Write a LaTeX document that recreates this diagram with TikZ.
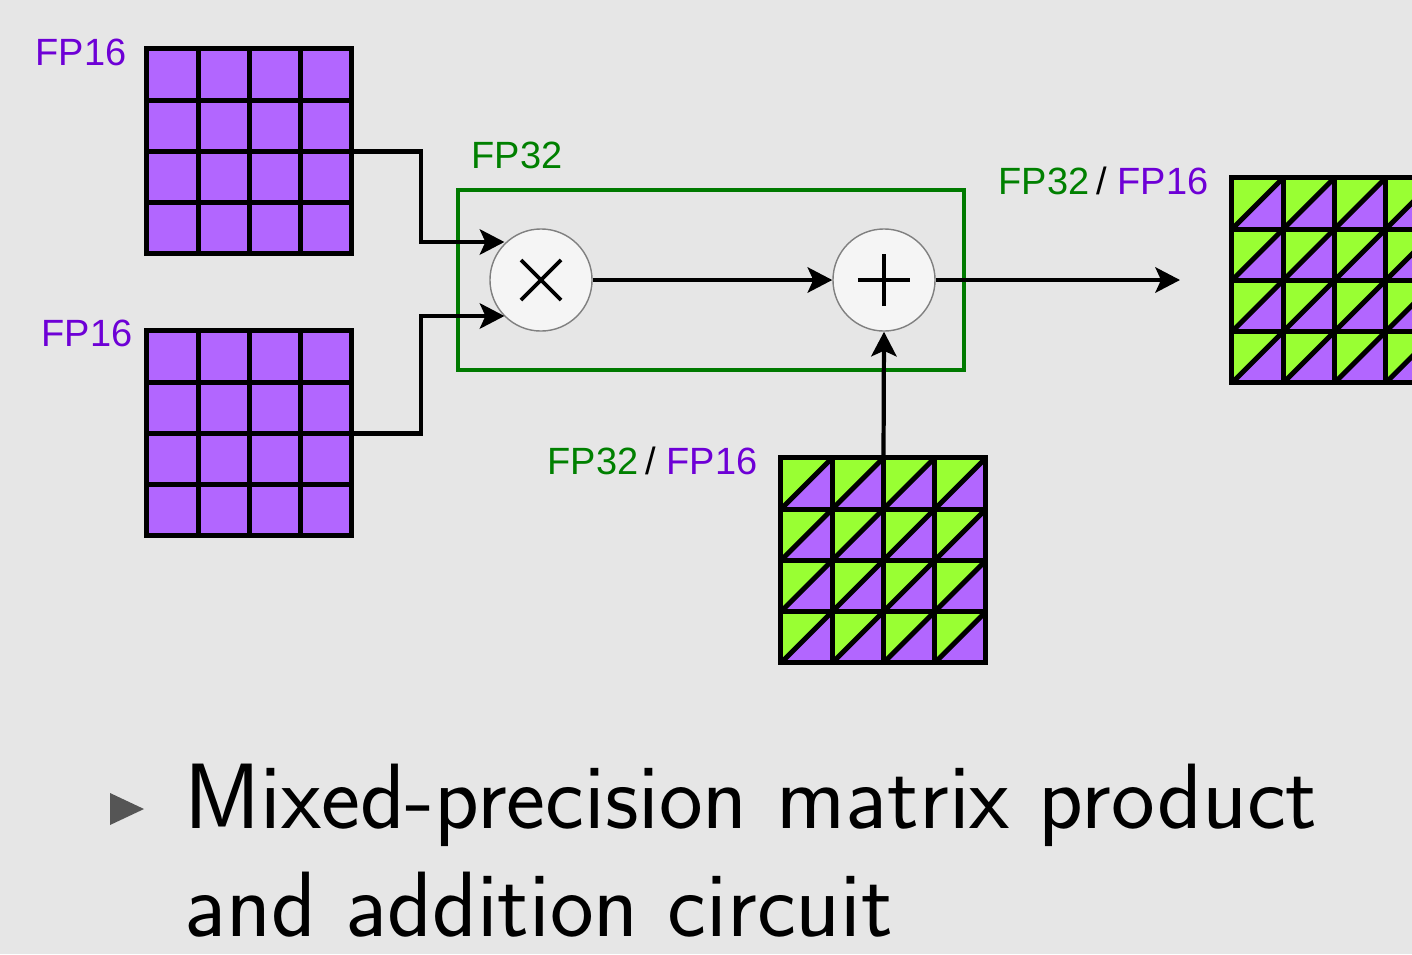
\documentclass[tikz,border=0pt]{standalone}
\usepackage{fontspec}
\newfontfamily\lblfont{Liberation Sans}
\usetikzlibrary{positioning,arrows.meta}
\definecolor{bgcol}{HTML}{E6E6E6}
\definecolor{fppurple}{HTML}{B266FF}
\definecolor{fpgreen}{HTML}{99FF33}
\definecolor{lblpurple}{HTML}{6E00D6}
\definecolor{lblgreen}{HTML}{008000}
\definecolor{boxgreen}{HTML}{007A00}
\definecolor{opfill}{HTML}{F5F5F5}
\definecolor{bulletgray}{HTML}{555555}
\begin{document}
\begin{tikzpicture}[x=0.01cm,y=-0.01cm,
    mat/.style={fill=fppurple,minimum size=2.05cm,inner sep=0pt,outer sep=0pt},
    cell/.style={line width=1.4pt},
    op/.style={circle,draw=gray,line width=0.4pt,fill=opfill,minimum size=1.02cm,inner sep=0pt},
    fplbl/.style={font=\lblfont\fontsize{10.8}{12}\selectfont,inner sep=0pt},
    conn/.style={line width=1.2pt,-{Stealth[length=7pt,width=7.2pt,inset=1.6pt]}}]
    \useasboundingbox (0,0) rectangle (1412,954);
    \fill[bgcol] (0,0) rectangle (1412,954);
    \clip (0,0) rectangle (1412,954);
    \node[mat] (matA) at (249.5,151.5) {};
    \node[mat] (matB) at (249.5,433.5) {};
    \node[mat] (matC) at (1334.5,280.5) {};
    \node[mat] (matD) at (883.5,560.5) {};
    \foreach \m in {matC,matD} {
        \begin{scope}[shift={(\m.north west)}]
            \foreach \i in {0,...,3} \foreach \j in {0,...,3} {
                \fill[fpgreen] ({\i*51.25},{\j*51.25}) -- ++(51.25,0) -- ++(-51.25,51.25) -- cycle;
                \draw[cell] ({\i*51.25},{(\j+1)*51.25}) -- ++(51.25,-51.25);
            }
        \end{scope}
    }
    \foreach \m in {matA,matB,matC,matD} {
        \begin{scope}[shift={(\m.north west)}]
            \foreach \k in {1,2,3} {
                \draw[cell] ({\k*51.25},0) -- ++(0,205);
                \draw[cell] (0,{\k*51.25}) -- ++(205,0);
            }
            \draw[cell] (0,0) rectangle (205,205);
        \end{scope}
    }
    \node[draw=boxgreen,line width=1.15pt,minimum width=5.06cm,minimum height=1.8cm] (fpbox) at (711,280) {};
    \node[op] (mul) at (541,280) {};
    \node[op] (add) at (884,280) {};
    \draw[line width=1.1pt] ([shift={(-20,-20)}]mul.center) -- ([shift={(20,20)}]mul.center);
    \draw[line width=1.1pt] ([shift={(-20,20)}]mul.center) -- ([shift={(20,-20)}]mul.center);
    \draw[line width=1.2pt] ([xshift=-0.26cm]add.center) -- ([xshift=0.26cm]add.center);
    \draw[line width=1.2pt] ([yshift=-0.26cm]add.center) -- ([yshift=0.26cm]add.center);
    \coordinate (bendA) at (421,242);
    \coordinate (bendB) at (421,316);
    \coordinate (outC) at (1180,280);
    \draw[conn] (matA.east) -| (bendA) -- (mul.135 |- bendA);
    \draw[conn] (matB.east) -| (bendB) -- (mul.225 |- bendB);
    \draw[conn] (mul) -- (add);
    \draw[conn] (add) -- (outC);
    \draw[conn] (matD.north) -- (add.south);
    \node[fplbl,text=lblpurple,anchor=base east] (lblA) at (127,65) {FP16};
    \node[fplbl,text=lblpurple,anchor=base east] (lblB) at (133,346) {FP16};
    \node[fplbl,text=lblgreen,anchor=base west] (lblbox) at (471,168) {FP32};
    \node[fplbl,anchor=base west] (lblC) at (998,194) {\textcolor{lblgreen}{FP32}\hspace{2pt}/ \textcolor{lblpurple}{FP16}};
    \node[fplbl,anchor=base west] (lblD) at (547,474) {\textcolor{lblgreen}{FP32}\hspace{2pt}/ \textcolor{lblpurple}{FP16}};
    \fill[bulletgray] (110,793) -- (144,809) -- (110,825) -- cycle;
    \node[anchor=north west,align=left,inner sep=0pt,font=\sffamily\fontsize{26.4}{30.7}\selectfont] (caption) at (184,763) {Mixed-precision matrix product\\and addition circuit};
\end{tikzpicture}
\end{document}
